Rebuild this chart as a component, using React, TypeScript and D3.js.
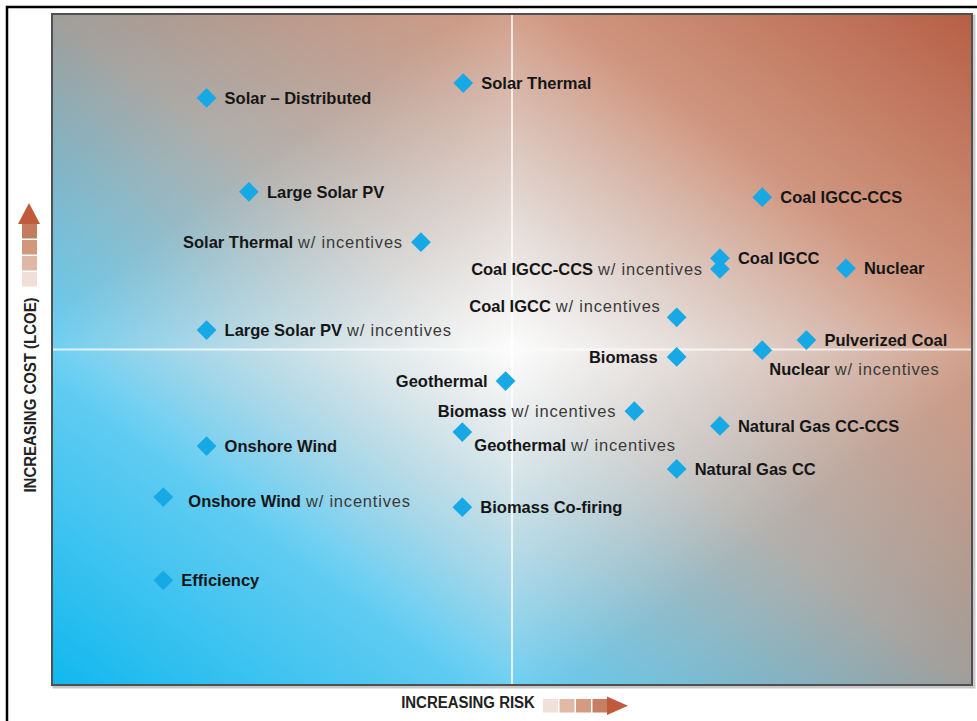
import React from "react";
import * as d3 from "d3";

// technology names, whether the point is the "w/ incentives" variant
const names = [
  "Solar – Distributed", "Solar Thermal", "Large Solar PV", "Solar Thermal",
  "Coal IGCC-CCS", "Coal IGCC", "Coal IGCC-CCS", "Nuclear", "Coal IGCC",
  "Large Solar PV", "Pulverized Coal", "Biomass", "Nuclear", "Geothermal",
  "Biomass", "Geothermal", "Natural Gas CC-CCS", "Onshore Wind",
  "Natural Gas CC", "Onshore Wind", "Biomass Co-firing", "Efficiency",
];
const withIncentives = [
  false, false, false, true, false, false, true, false, true, true, false,
  false, true, false, true, true, false, false, false, true, false, false,
];
// relative scores 0-100
const risk = [
  16.8, 44.7, 21.4, 40.1, 77.2, 72.6, 72.6, 86.3, 67.9, 16.8, 82.0, 67.9,
  77.2, 49.3, 63.3, 44.6, 72.6, 16.8, 67.9, 12.1, 44.6, 12.1,
];
const cost = [
  87.5, 89.7, 73.5, 66.0, 72.7, 63.6, 62.0, 62.1, 54.8, 52.9, 51.4, 48.9,
  49.9, 45.3, 40.8, 37.7, 38.6, 35.6, 32.2, 28.0, 26.5, 15.6,
];

// where each label sits relative to its diamond: [dx, dy, anchor]
const labelPlace: Record<number, [number, number, string]> = {
  3: [-18, 0, "end"],
  6: [-17, 0, "end"],
  8: [-16, -11, "end"],
  11: [-19, 0, "end"],
  12: [7, 19, "start"],
  13: [-18, 0, "end"],
  14: [-18, 0, "end"],
  15: [12, 13, "start"],
  19: [25, 4, "start"],
};

const W = 977;
const H = 721;
const plot = { left: 52, top: 14, right: 972, bottom: 685 };

// white glow per quadrant: outer corner -> chart centre
const quads = [
  { id: "qtl", x1: 0, y1: 0, x2: 1, y2: 1, col: 0, row: 0 },
  { id: "qtr", x1: 1, y1: 0, x2: 0, y2: 1, col: 1, row: 0 },
  { id: "qbl", x1: 0, y1: 1, x2: 1, y2: 0, col: 0, row: 1 },
  { id: "qbr", x1: 1, y1: 1, x2: 0, y2: 0, col: 1, row: 1 },
];

export default function App() {
  const x = d3.scaleLinear().domain([0, 100]).range([plot.left, plot.right]);
  const y = d3.scaleLinear().domain([0, 100]).range([plot.bottom, plot.top]);
  const pw = plot.right - plot.left;
  const ph = plot.bottom - plot.top;
  const diamond = d3.symbol().type(d3.symbolSquare).size(195)();

  const yShades = ["#c47c5f", "#d1977c", "#dfb7a5", "#f0dfd6"];
  const xShades = ["#f1e0d7", "#e1b9a6", "#d39b81", "#c67f63"];

  return (
    <svg
      width={W}
      height={H}
      style={{ position: "absolute", left: 0, top: 0, background: "#fff" }}
      fontFamily="'Liberation Sans', Arial, sans-serif"
    >
      <defs>
        <linearGradient id="diag" x1="0" y1="1" x2="1" y2="0">
          <stop offset="0" stopColor="#10b8ee" />
          <stop offset="0.25" stopColor="#3cbfee" />
          <stop offset="0.5" stopColor="#a09e9a" />
          <stop offset="0.75" stopColor="#c47e62" />
          <stop offset="1" stopColor="#b65f45" />
        </linearGradient>
        {quads.map((q) => (
          <linearGradient key={q.id} id={q.id} x1={q.x1} y1={q.y1} x2={q.x2} y2={q.y2}>
            <stop offset="0" stopColor="#fff" stopOpacity="0" />
            <stop offset="0.45" stopColor="#fff" stopOpacity="0.2" />
            <stop offset="0.75" stopColor="#fff" stopOpacity="0.6" />
            <stop offset="1" stopColor="#fff" stopOpacity="0.97" />
          </linearGradient>
        ))}
      </defs>

      <path d={`M7,${H} V7 H${W}`} fill="none" stroke="#000" strokeWidth={2.5} />

      <rect x={plot.left + 2} y={plot.top + 2} width={pw} height={ph} fill="none" stroke="#c8c8c8" strokeWidth={3} />
      <rect x={plot.left} y={plot.top} width={pw} height={ph} fill="url(#diag)" />
      {quads.map((q) => (
        <rect
          key={q.id}
          x={x(q.col * 50)}
          y={y(100 - q.row * 50)}
          width={pw / 2}
          height={ph / 2}
          fill={`url(#${q.id})`}
        />
      ))}
      <line x1={x(50)} x2={x(50)} y1={plot.top} y2={plot.bottom} stroke="#fff" strokeOpacity={0.75} strokeWidth={2} />
      <line x1={plot.left} x2={plot.right} y1={y(50)} y2={y(50)} stroke="#fff" strokeOpacity={0.75} strokeWidth={2} />
      <rect x={plot.left} y={plot.top} width={pw} height={ph} fill="none" stroke="#505050" strokeWidth={2} />

      {names.map((n, i) => {
        const cx = x(risk[i]);
        const cy = y(cost[i]);
        const [dx, dy, anchor] = labelPlace[i] ?? [18, 0, "start"];
        return (
          <g key={i}>
            <path d={diamond} transform={`translate(${cx},${cy}) rotate(45)`} fill="#17a9e6" />
            <text x={cx + dx} y={cy + dy} dy="0.36em" textAnchor={anchor} fontSize={16.5}>
              <tspan fontWeight={700} fill="#161616">{n}</tspan>
              {withIncentives[i] && (
                <tspan dx={5} fill="#3a3a3a" letterSpacing={0.8}>w/ incentives</tspan>
              )}
            </text>
          </g>
        );
      })}

      {/* y axis title with arrow */}
      <g>
        <text
          transform="translate(30,395) rotate(-90) scale(0.88,1)"
          textAnchor="middle"
          dominantBaseline="central"
          fontSize={17}
          fontWeight={700}
          fill="#222"
        >
          INCREASING COST (LCOE)
        </text>
        {yShades.map((c, i) => (
          <rect key={i} x={22} y={224 + i * 16} width={15} height={14.5} fill={c} />
        ))}
        <path d="M18,224 L29,203 L40,224 Z" fill="#c05a3c" />
      </g>

      {/* x axis title with arrow */}
      <g>
        <text
          transform="translate(468,702) scale(0.88,1)"
          textAnchor="middle"
          dominantBaseline="central"
          fontSize={17}
          fontWeight={700}
          fill="#222"
        >
          INCREASING RISK
        </text>
        {xShades.map((c, i) => (
          <rect key={i} x={543 + i * 16.5} y={699} width={15} height={13.5} fill={c} />
        ))}
        <path d="M607,696.5 L628,705.75 L607,715 Z" fill="#c05a3c" />
      </g>
    </svg>
  );
}
